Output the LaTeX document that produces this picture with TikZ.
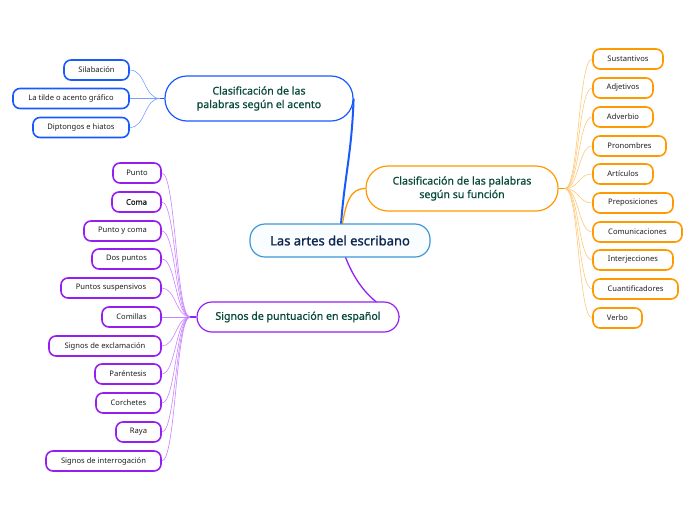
\documentclass[tikz,border=0pt]{standalone}
\usepackage{fontspec}
\setmainfont{Noto Sans}
\newfontfamily\semifont[FakeBold=1.3]{Noto Sans}
\newfontfamily\midfont[FakeBold=0.8]{Noto Sans}
\usetikzlibrary{backgrounds}
\definecolor{bluec}{RGB}{25,90,255}
\definecolor{bluel}{RGB}{120,160,255}
\definecolor{orangec}{RGB}{255,153,0}
\definecolor{orangel}{RGB}{255,200,120}
\definecolor{purplec}{RGB}{150,30,240}
\definecolor{purplel}{RGB}{200,130,255}
\definecolor{centralc}{RGB}{60,150,215}
\definecolor{centralfill}{RGB}{250,253,255}
\definecolor{maintext}{RGB}{10,75,60}
\definecolor{centraltext}{RGB}{15,40,80}
\definecolor{childtext}{RGB}{30,30,30}
\begin{document}
\begin{tikzpicture}[x=1pt,y=-1pt,
  child/.style={draw, line width=1.6pt, rounded corners=7pt, fill=white, minimum height=20pt, inner sep=0pt, font=\fontsize{7.6}{9}\selectfont, text=childtext},
  mainbox/.style={draw, line width=1.2pt, fill=white, align=center, inner sep=0pt, font=\fontsize{10.6}{13.5}\midfont, text=maintext},
  thin link/.style={line width=0.6pt},
  stub/.style={line width=1.6pt}
]
\useasboundingbox (0,0) rectangle (696,520);

% central
\node[draw=centralc, fill=centralfill, line width=1.2pt, rounded corners=15pt, minimum width=180pt, minimum height=33pt, inner sep=0pt, font=\fontsize{13}{15}\semifont, text=centraltext] (central) at (340,240.5) {Las artes del escribano};

% main nodes
\node[mainbox, draw=bluec, rounded corners=22pt, minimum width=188pt, minimum height=45pt] (bm) at (259,98.5) {Clasificación de las\\palabras según el acento};
\node[mainbox, draw=orangec, rounded corners=22pt, minimum width=192pt, minimum height=45pt] (om) at (462,188.5) {Clasificación de las palabras\\según su función};
\node[mainbox, draw=purplec, rounded corners=15pt, minimum width=202pt, minimum height=30pt] (pm) at (298,317) {Signos de puntuación en español};

% blue children
\node[child, draw=bluec, minimum width=65pt] (b1) at (96.5,70) {Silabación};
\node[child, draw=bluec, minimum width=116pt] (b2) at (71,98.5) {La tilde o acento gráfico};
\node[child, draw=bluec, minimum width=96pt] (b3) at (81,127.5) {Diptongos e hiatos};

% orange children
\node[child, draw=orangec, minimum width=70pt] (o1) at (628,59) {Sustantivos};
\node[child, draw=orangec, minimum width=60pt] (o2) at (623,88) {Adjetivos};
\node[child, draw=orangec, minimum width=60pt] (o3) at (623,117) {Adverbio};
\node[child, draw=orangec, minimum width=73pt] (o4) at (629.5,146) {Pronombres};
\node[child, draw=orangec, minimum width=60pt] (o5) at (623,174) {Artículos};
\node[child, draw=orangec, minimum width=80pt] (o6) at (633,203) {Preposiciones};
\node[child, draw=orangec, minimum width=89pt] (o7) at (637.5,232) {Comunicaciones};
\node[child, draw=orangec, minimum width=80pt] (o8) at (633,260) {Interjecciones};
\node[child, draw=orangec, minimum width=85pt] (o9) at (635.5,289) {Cuantificadores};
\node[child, draw=orangec, minimum width=49pt] (o10) at (617.5,318) {Verbo};

% purple children
\node[child, draw=purplec, minimum width=48pt] (p1) at (137,173) {Punto};
\node[child, draw=purplec, minimum width=49pt, font=\fontsize{7.6}{9}\semifont] (p2) at (136.5,202) {Coma};
\node[child, draw=purplec, minimum width=77pt] (p3) at (122.5,231) {Punto y coma};
\node[child, draw=purplec, minimum width=69pt] (p4) at (126.5,259) {Dos puntos};
\node[child, draw=purplec, minimum width=100pt] (p5) at (111,288) {Puntos suspensivos};
\node[child, draw=purplec, minimum width=59pt] (p6) at (131.5,317) {Comillas};
\node[child, draw=purplec, minimum width=112pt] (p7) at (105,346) {Signos de exclamación};
\node[child, draw=purplec, minimum width=66pt] (p8) at (128,374) {Paréntesis};
\node[child, draw=purplec, minimum width=65pt] (p9) at (128.5,403) {Corchetes};
\node[child, draw=purplec, minimum width=45pt] (p10) at (138.5,432) {Raya};
\node[child, draw=purplec, minimum width=115pt] (p11) at (103.5,461) {Signos de interrogación};

% junction points
\coordinate (bj) at (160,98.5);
\coordinate (oj) at (565,188.5);
\coordinate (pj) at (190,317);

\begin{scope}[on background layer]
  % main links
  \draw[bluec, line width=2pt] (central.center) .. controls +(3,-60) and +(-2,60) .. (bm.east);
  \draw[orangec, line width=1.3pt] (central.center) .. controls +(5,-40) and +(-15,0) .. (om.west);
  \draw[purplec, line width=1.3pt] (central.center) .. controls +(14,50) and +(-22,-12) .. (pm.east);
  % stubs
  \draw[bluec, stub] (bm.west) -- (bj);
  \draw[orangec, stub] (om.east) -- (oj);
  \draw[purplec, stub] (pm.west) -- (pj);
  % blue child links
  \foreach \c in {b1,b2,b3} \draw[bluel, thin link] (bj) .. controls +(-16,0) and +(16,0) .. (\c.east);
  % orange child links
  \foreach \c in {o1,o2,o3,o4,o5,o6,o7,o8,o9,o10} \draw[orangel, thin link] (oj) .. controls +(14,0) and +(-14,0) .. (\c.west);
  % purple child links
  \foreach \c in {p1,p2,p3,p4,p5,p6,p7,p8,p9,p10,p11} \draw[purplel, thin link] (pj) .. controls +(-14,0) and +(14,0) .. (\c.east);
\end{scope}
\end{tikzpicture}
\end{document}
